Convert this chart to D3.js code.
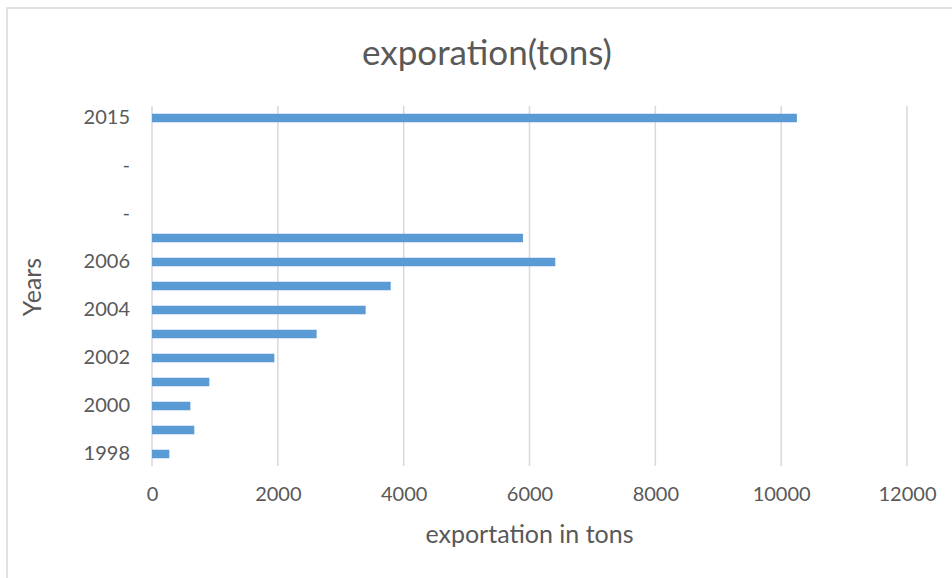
<!DOCTYPE html>
<html>
<head>
<meta charset="utf-8">
<script src="https://cdn.jsdelivr.net/npm/d3@7"></script>
<style>
  body { margin: 0; background: #fff; }
  svg text { font-family: Lato, "Open Sans", sans-serif; fill: #595959; }
</style>
</head>
<body>
<div class="chart"></div>
<script>
// categories bottom -> top, excel shows every other label
const years = ["1998", "1999", "2000", "2001", "2002", "2003", "2004", "2005", "2006", "2007", "-", "-", "-", "-", "2015"];
const tons = [275, 672, 610, 911, 1945, 2617, 3396, 3794, 6410, 5896, 0, 0, 0, 0, 10250];
const xTicks = [0, 2000, 4000, 6000, 8000, 10000, 12000];

const W = 952, H = 578;
const margin = ({top: 106, right: 45, bottom: 112, left: 152});
const width = W - margin.left - margin.right;
const height = H - margin.top - margin.bottom;

const svg = d3.select('.chart').append('svg')
    .attr("width", W)
    .attr("height", H)

// chart border (only left/top visible in the crop)
svg.append('rect')
    .attr('x', 7).attr('y', 8)
    .attr('width', W + 10).attr('height', H + 10)
    .attr('fill', 'none')
    .attr('stroke', '#d9d9d9')
    .attr('stroke-width', 1.5)

const g = svg.append("g")
    .attr("transform", "translate(" + margin.left + "," + margin.top + ")")

const idx = years.map((d, i) => i);

const xScale = d3.scaleLinear()
    .domain([0, 12000])
    .range([0, width])

const yScale = d3.scaleBand()
    .domain(idx.slice().reverse())
    .range([0, height])
    .paddingInner(0.645)
    .paddingOuter(0.3225)

// gridlines
g.selectAll('.grid')
    .data(xTicks)
    .enter()
    .append('line')
    .attr('x1', d => xScale(d))
    .attr('x2', d => xScale(d))
    .attr('y1', 0)
    .attr('y2', height)
    .attr('stroke', '#d9d9d9')
    .attr('stroke-width', 1.5)

g.selectAll('.bar')
    .data(idx)
    .enter()
    .append('rect')
    .attr('x', xScale(0))
    .attr('y', d => yScale(d))
    .attr('width', d => xScale(tons[d]) - xScale(0))
    .attr('height', yScale.bandwidth())
    .attr('fill', '#5b9bd5')

// x axis labels
const xAxis = d3.axisBottom(xScale)
    .tickValues(xTicks)
    .tickSize(0)
    .tickPadding(21)
    .tickFormat(d3.format('d'))

const xg = g.append('g')
    .attr('transform', `translate(0,${height})`)
    .call(xAxis)
xg.select('.domain').remove()
xg.selectAll('text').style('font-size', '20px').attr('fill', '#595959')

// y axis labels, every other category
const yAxis = d3.axisLeft(yScale)
    .tickSize(0)
    .tickPadding(22)
    .tickFormat(d => d % 2 === 0 ? years[d] : '')

const yg = g.append('g').call(yAxis)
yg.select('.domain').remove()
yg.selectAll('text').style('font-size', '20px').attr('fill', '#595959')

svg.append('text')
    .attr('x', 487)
    .attr('y', 65)
    .attr('text-anchor', 'middle')
    .style('font-size', '35px')
    .text('exporation(tons)')

svg.append('text')
    .attr('x', margin.left + width / 2)
    .attr('y', 543)
    .attr('text-anchor', 'middle')
    .style('font-size', '25px')
    .text('exportation in tons')

svg.append('text')
    .attr('transform', 'translate(41,287) rotate(-90)')
    .attr('text-anchor', 'middle')
    .style('font-size', '25px')
    .text('Years')
</script>
</body>
</html>
